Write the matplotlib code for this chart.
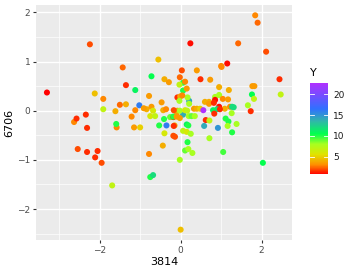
import numpy as np
import matplotlib
matplotlib.use("Agg")
import matplotlib.pyplot as plt
from matplotlib.colors import LinearSegmentedColormap, Normalize

# values (x = "3814", y = "6706", colour = Y)
x = [-3.30, -2.24, -2.12, -1.91, -1.91, -1.43, -1.35, -1.50, -1.61, -1.35,
     -1.12, -1.02, -1.12, -0.72, -0.55, -0.78, -0.84, -0.72, -0.91, -0.47,
     -0.40, -0.29, -0.75, -0.63, -0.43, -0.36, -0.08, -2.63, -2.57, -2.34,
     -2.31, -1.58, -1.59, -1.21, -1.15, -1.00, -0.53, -0.40, -0.18, -0.14,
     -0.35, -0.41, -0.26, -0.15, -0.18, -0.10, 1.84, 1.90, 0.24, 1.42,
     2.11, 1.15, 1.00, 1.01, 0.03, 0.40, 0.49, 0.73, -0.02, 0.06,
     -0.03, 0.11, 2.44, 1.77, 1.82, 0.95, 1.19, 0.06, 0.15, -0.01,
     -0.03, 0.21, 0.21, 0.17, 0.85, 0.95, 1.04, 0.85, 1.17, 1.76,
     1.81, 2.47, 0.60, 0.70, 0.70, 0.82, 0.95, 0.90, 1.22, 1.27,
     1.09, 1.66, 1.73, 0.33, 0.40, 0.48, 0.56, 0.06, -0.08, -0.02,
     0.11, 0.16, -0.18, -0.10, -0.02, 0.20, 0.27, 0.35, 0.62, 0.80,
     0.83, 0.97, 1.26, 0.58, 0.92, 1.18, 1.16, 1.38, 0.71, -0.17,
     0.15, 0.06, 0.15, 0.25, 0.71, 1.27, 0.17, 0.11, 0.19, 0.29,
     1.05, -0.02, 2.03, 0.00, -2.54, -2.31, -2.05, -2.11, -1.95, -1.69,
     -0.78, -0.44, -0.75, -0.68, 0.19, 1.11, -0.68, -0.17, 0.04, 1.31]
y = [0.37, 1.35, 0.35, 0.24, 0.03, 0.88, 0.52, 0.12, -0.01, 0.13,
     0.01, 0.11, 0.42, 0.70, 1.04, 0.30, 0.03, 0.08, 0.05, 0.17,
     0.64, 0.58, -0.11, -0.11, 0.01, 0.03, 0.27, -0.23, -0.16, -0.08,
     -0.35, -0.34, -0.27, -0.12, -0.34, -0.34, -0.30, -0.46, -0.51, -0.53,
     -0.30, -0.17, -0.13, -0.30, -0.13, -0.09, 1.94, 1.79, 1.37, 1.37,
     1.20, 0.96, 0.91, 0.89, 0.82, 0.82, 0.64, 0.63, 0.68, 0.57,
     0.53, 0.59, 0.64, 0.50, 0.50, 0.48, 0.42, 0.41, 0.45, 0.29,
     0.20, 0.20, 0.14, 0.27, 0.28, 0.32, 0.24, 0.22, 0.23, 0.33,
     0.24, 0.33, 0.18, 0.18, 0.14, 0.16, 0.08, 0.03, 0.08, 0.08,
     0.04, 0.11, -0.01, 0.04, 0.04, 0.04, 0.01, -0.08, 0.00, 0.00,
     0.01, 0.00, -0.12, -0.12, -0.15, -0.11, -0.11, -0.11, -0.19, 0.01,
     -0.06, 0.03, -0.05, -0.31, -0.35, -0.22, -0.31, -0.27, -0.20, -0.31,
     -0.28, -0.41, -0.43, -0.47, -0.56, -0.44, -0.64, -0.81, -0.78, -0.86,
     -0.84, -1.00, -1.06, -2.42, -0.78, -0.84, -0.82, -0.95, -1.06, -1.52,
     -0.88, -0.71, -1.35, -1.31, -0.30, -0.16, 0.00, 0.01, 0.31, 0.07]
val = [0.8, 2, 4.5, 3, 7, 2.5, 1.5, 2.5, 4, 4,
       3, 16, 11, 10.5, 4.5, 3.5, 4, 3.5, 3.5, 3.5,
       4, 3.5, 6, 7, 4, 3, 1.5, 3, 1.5, 1.5,
       1.5, 3, 10, 3, 3.5, 5, 10, 6, 2, 2,
       16, 10, 9, 4, 1.5, 3.5, 3, 2.5, 1, 2.5,
       2, 1, 3, 3, 2, 3.5, 1.5, 3.5, 2.5, 10,
       7, 3, 1.5, 3.5, 3.5, 4, 4, 10, 3.5, 4,
       8, 14, 8, 8, 8, 8, 3, 1, 3.5, 10.5,
       7, 7, 4, 4, 3.5, 1.5, 1, 12, 3, 12,
       4, 8, 1.5, 3.5, 4, 5, 22.6, 14, 4, 8,
       6, 7, 10, 3.5, 3.5, 8, 9, 8, 1.5, 11,
       1.5, 1.5, 8, 14, 15, 10, 8, 8, 7, 1.5,
       11, 7, 6, 8, 8, 10, 10, 9, 8, 8,
       9.5, 8, 10.5, 4.5, 2, 1.5, 1.5, 1.5, 2, 7,
       3, 4, 10, 12, 10, 10, 6, 2, 3, 12]

x_ticks = [-2, 0, 2]
y_ticks = [-2, -1, 0, 1, 2]
cbar_ticks = [5, 10, 15, 20]

vmin, vmax = min(val), max(val)
stops = [0.8, 3, 5.5, 8, 10.5, 13.5, 16.5, 22.6]
cols = ["#FF0000", "#FF8C00", "#E2E200", "#A8FF20", "#00FF50", "#30B8A8", "#3070FF", "#B030FF"]
cmap = LinearSegmentedColormap.from_list(
    "yc", [((s - stops[0]) / (stops[-1] - stops[0]), c) for s, c in zip(stops, cols)])

fig = plt.figure(figsize=(3.54, 2.73), dpi=100)
ax = fig.add_axes([0.1017, 0.1209, 0.7233, 0.8608])
ax.set_facecolor("#EBEBEB")
sc = ax.scatter(x, y, c=val, cmap=cmap, vmin=vmin, vmax=vmax, s=19, linewidths=0, zorder=3)

ax.set_xlim(-3.57, 2.75)
ax.set_ylim(-2.63, 2.15)
ax.set_xticks(x_ticks)
ax.set_yticks(y_ticks)
ax.set_xticks([-3, -1, 1], minor=True)
ax.set_yticks([-2.5, -1.5, -0.5, 0.5, 1.5], minor=True)
ax.grid(which="major", color="white", linewidth=1.0, zorder=0)
ax.grid(which="minor", color="white", linewidth=0.5, zorder=0)
ax.set_axisbelow(True)
for sp in ax.spines.values():
    sp.set_visible(False)
ax.tick_params(which="major", length=2.5, width=0.8, color="#333333",
               labelsize=6.5, labelcolor="#4D4D4D", pad=1.5)
ax.tick_params(which="minor", length=0)
ax.set_xticklabels([str(t).replace("-", "\u2212") for t in x_ticks])
ax.set_yticklabels([str(t).replace("-", "\u2212") for t in y_ticks])
ax.set_xlabel("3814", fontsize=8, labelpad=2)
ax.set_ylabel("6706", fontsize=8, labelpad=2)

cax = fig.add_axes([0.8757, 0.3615, 0.05, 0.3334])
cb = fig.colorbar(sc, cax=cax)
cb.outline.set_visible(False)
cb.set_ticks(cbar_ticks)
cax.tick_params(length=0, labelsize=6.5, labelcolor="#1A1A1A", pad=4)
for t in cbar_ticks:
    cax.axhline(t, xmin=0, xmax=0.2, color="white", linewidth=0.6)
    cax.axhline(t, xmin=0.8, xmax=1, color="white", linewidth=0.6)
fig.text(0.876, 0.715, "Y", fontsize=8, ha="left", va="bottom")

fig.savefig("out.png", dpi=100)
